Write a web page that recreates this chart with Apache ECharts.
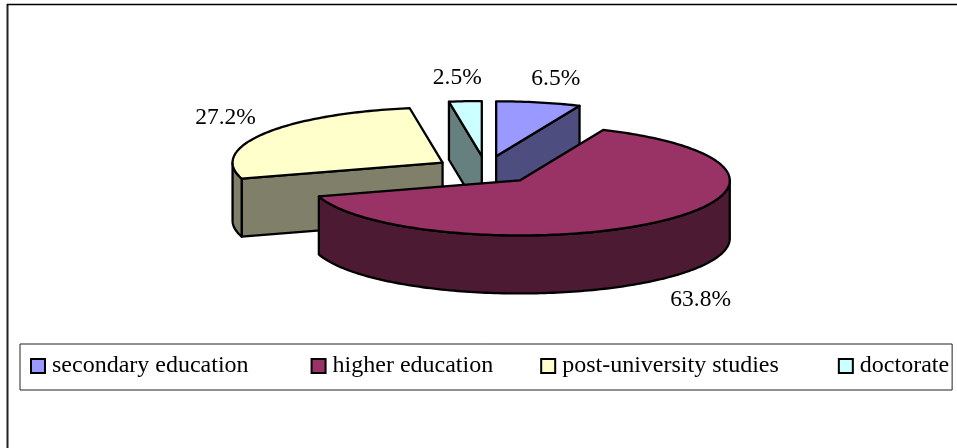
<!DOCTYPE html>
<html>
<head>
<meta charset="utf-8">
<style>html,body{margin:0;padding:0;background:#fff}#chart{width:957px;height:448px}</style>
<script src="https://cdn.jsdelivr.net/npm/echarts@6/dist/echarts.min.js"></script>
</head>
<body>
<div id="chart"></div>
<script>
// Highest level of education attained, share of respondents (%)
const categories = ['secondary education', 'higher education', 'post-university studies', 'doctorate'];
const shares = [6.5, 63.8, 27.2, 2.5];

// Slice colours: top face and the darker side wall
const topColors = ['#9999FF', '#993366', '#FFFFCC', '#CCFFFF'];
const sideColors = ['#4D4D80', '#4D1A33', '#80806A', '#668080'];

// Projection of the tilted, exploded pie
const FONT = '"Liberation Serif", "Times New Roman", serif';
const pie = { cx: 485.8, cy: 170, rx: 210, ry: 55, depth: 58, explodeX: 51, explodeY: 14 };
// Label offset from the top rim at each slice's middle angle
const labelOffsets = [[17, -24], [41, 78], [-39, -16], [-8, -23]];
// Stacking order of the slices, nearest last
const layerOrder = [1, 4, 2, 3];
// Narrow spaces appended to each legend entry to even out the row
const legendTrailing = [7, 2, 6, 0];

const total = shares.reduce((a, b) => a + b, 0);
const toAngle = share => share / total * 2 * Math.PI;
const startAngles = shares.map((_, i) => toAngle(shares.slice(0, i).reduce((a, b) => a + b, 0)));

// Point on the slice's rim; angle runs clockwise from twelve o'clock
function rim(c, a, drop) {
  return [c[0] + pie.rx * Math.sin(a), c[1] - pie.ry * Math.cos(a) + (drop || 0)];
}

function arcPoints(c, a0, a1, drop) {
  const steps = Math.max(2, Math.ceil((a1 - a0) / 0.02));
  const pts = [];
  for (let k = 0; k <= steps; k++) pts.push(rim(c, a0 + (a1 - a0) * k / steps, drop));
  return pts;
}

function polygon(points, fill) {
  return {
    type: 'polygon',
    shape: { points },
    style: { fill, stroke: '#000', lineWidth: 2.3, lineJoin: 'round' }
  };
}

function renderSlice(i) {
  const a0 = startAngles[i];
  const a1 = a0 + toAngle(shares[i]);
  const mid = (a0 + a1) / 2;
  const c = [pie.cx + pie.explodeX * Math.sin(mid), pie.cy - pie.explodeY * Math.cos(mid)];
  const children = [];

  // Cut faces turned towards the viewer
  const face = a => {
    const r = rim(c, a);
    children.push(polygon([c, r, [r[0], r[1] + pie.depth], [c[0], c[1] + pie.depth]], sideColors[i]));
  };
  if (Math.sin(a0) < -1e-6) face(a0);
  if (Math.sin(a1) > 1e-6) face(a1);

  // Outer wall on the near half of the ellipse
  const w0 = Math.max(a0, Math.PI / 2);
  const w1 = Math.min(a1, 3 * Math.PI / 2);
  if (w1 > w0) {
    children.push(polygon(
      arcPoints(c, w0, w1).concat(arcPoints(c, w0, w1, pie.depth).reverse()),
      sideColors[i]
    ));
  }

  // Top face
  children.push(polygon([c].concat(arcPoints(c, a0, a1)), topColors[i]));

  // Percentage label
  const anchor = rim(c, mid);
  children.push({
    type: 'text',
    style: {
      x: anchor[0] + labelOffsets[i][0],
      y: anchor[1] + labelOffsets[i][1],
      text: shares[i].toFixed(1) + '%',
      font: '23.5px ' + FONT,
      fill: '#000',
      align: 'center',
      verticalAlign: 'middle'
    }
  });
  return { type: 'group', children };
}

// Legend text plus a run of half-size spaces after it
function legendEntry(name) {
  const spaces = legendTrailing[categories.indexOf(name)];
  return '{t|' + name + '}' + (spaces ? '{g|' + '\u00a0'.repeat(spaces) + '}' : '');
}

const chart = echarts.init(document.getElementById('chart'), null, { renderer: 'canvas' });
chart.setOption({
  animation: false,
  backgroundColor: '#fff',
  graphic: [
    // Chart frame: only the top and left rules fall inside the page
    { type: 'line', shape: { x1: 7.5, y1: 4, x2: 7.5, y2: 448 }, style: { stroke: '#222', lineWidth: 2 } },
    { type: 'line', shape: { x1: 7, y1: 4.5, x2: 957, y2: 4.5 }, style: { stroke: '#000', lineWidth: 1.5 } }
  ],
  legend: {
    left: 20,
    top: 344,
    orient: 'horizontal',
    data: categories,
    formatter: legendEntry,
    icon: 'rect',
    itemWidth: 14,
    itemHeight: 14,
    itemGap: 41,
    padding: [10, 3, 12, 10],
    backgroundColor: '#fff',
    borderColor: '#222',
    borderWidth: 1,
    selectedMode: false,
    itemStyle: { borderColor: '#000', borderWidth: 2 },
    textStyle: {
      fontFamily: FONT,
      fontSize: 24,
      color: '#000',
      rich: {
        t: { fontFamily: FONT, fontSize: 24, color: '#000', padding: [0, 0, 0, 2] },
        g: { fontFamily: FONT, fontSize: 12, color: '#000' }
      }
    }
  },
  series: categories.map((name, i) => ({
    type: 'custom',
    name,
    coordinateSystem: 'none',
    z: layerOrder[i],
    silent: true,
    clip: false,
    itemStyle: { color: topColors[i] },
    data: [[shares[i]]],
    renderItem: () => renderSlice(i)
  }))
});
</script>
</body>
</html>
